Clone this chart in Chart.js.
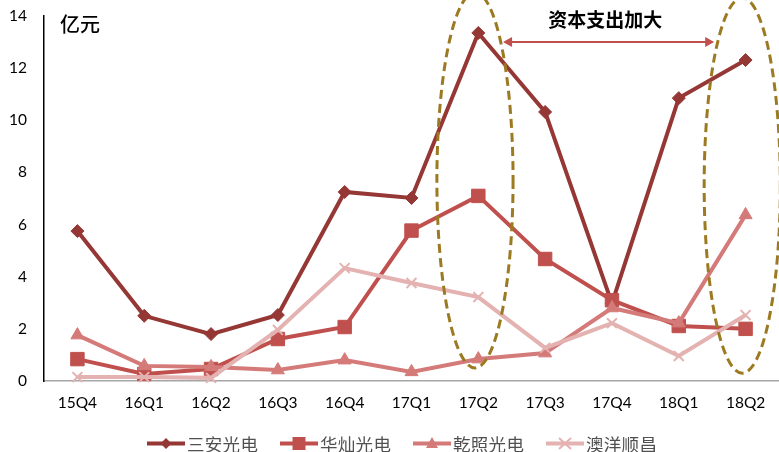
<!DOCTYPE html>
<html>
<head>
<meta charset="utf-8">
<script src="https://cdn.jsdelivr.net/npm/chart.js@4/dist/chart.umd.min.js"></script>
<style>
  html, body { margin: 0; padding: 0; background: #fff; }
  #wrap { position: relative; width: 779px; height: 452px; }
  #legend {
    position: absolute; left: 147px; top: 431px; height: 24px;
    display: flex; gap: 22px;
    font-family: "Noto Sans CJK SC", sans-serif; font-size: 17.5px; color: #505050;
  }
  #legend .item { display: flex; align-items: center; gap: 2px; white-space: nowrap; }
  #legend span { display: inline-block; width: 71px; letter-spacing: 0.3px; }
</style>
</head>
<body>
<div id="wrap">
  <canvas id="chart" width="779" height="452"></canvas>
  <div id="legend"></div>
</div>
<script>
// quarters and values (亿元)
const quarters = ['15Q4', '16Q1', '16Q2', '16Q3', '16Q4', '17Q1', '17Q2', '17Q3', '17Q4', '18Q1', '18Q2'];
const sananValues = [5.75, 2.5, 1.8, 2.53, 7.25, 7.02, 13.35, 10.32, 2.98, 10.85, 12.31];
const huacanValues = [0.84, 0.27, 0.46, 1.61, 2.07, 5.77, 7.1, 4.68, 3.1, 2.11, 2.0];
const qianzhaoValues = [1.76, 0.58, 0.54, 0.42, 0.8, 0.35, 0.84, 1.07, 2.8, 2.22, 6.37];
const aoyangValues = [0.15, 0.15, 0.12, 1.96, 4.33, 3.76, 3.22, 1.27, 2.22, 0.96, 2.53];
const seriesNames = ['三安光电', '华灿光电', '乾照光电', '澳洋顺昌'];
const yTicks = [0, 2, 4, 6, 8, 10, 12, 14];
const unitLabel = '亿元';
const noteText = '资本支出加大';

const colors = ['#953735', '#C0504D', '#D47B79', '#E3B2B1'];
const markers = ['rectRot', 'rect', 'triangle', 'crossRot'];
const markerSizes = [6.5, 9.5, 7.5, 7];

const makeSet = (i, data) => ({
    label: seriesNames[i],
    data: data,
    borderColor: colors[i],
    backgroundColor: colors[i],
    borderWidth: 4,
    pointStyle: markers[i],
    pointRadius: markerSizes[i],
    pointBorderWidth: i === 3 ? 2 : 1,
    pointBackgroundColor: colors[i],
    pointBorderColor: colors[i],
    tension: 0,
    clip: false,
    order: 4 - i // later series on top, like Excel
});

// dashed ellipses, arrow and note drawn on top of the lines
const notePlugin = {
    id: 'notes',
    afterDatasetsDraw(chart) {
        const ctx = chart.ctx;
        const x = chart.scales.x, y = chart.scales.y;
        ctx.save();

        // unit label
        ctx.fillStyle = '#000';
        ctx.font = '500 20px "Noto Sans CJK SC"';
        ctx.textAlign = 'left';
        ctx.textBaseline = 'middle';
        ctx.fillText(unitLabel, 60, 24);

        const ellipse = (cIdx, yBottom, yTop) => {
            const cx = x.getPixelForValue(cIdx);
            const rx = x.getPixelForValue(cIdx + 0.57) - cx;
            const b = y.getPixelForValue(yBottom), t = y.getPixelForValue(yTop);
            ctx.beginPath();
            ctx.ellipse(cx, (b + t) / 2, rx, (b - t) / 2, 0, 0, Math.PI * 2);
            ctx.setLineDash([9, 5]);
            ctx.lineWidth = 3;
            ctx.strokeStyle = '#9C7A22';
            ctx.stroke();
        };
        ellipse(5.95, 0.5, 14.9);
        ellipse(9.95, 0.3, 14.7);

        // double-headed arrow
        ctx.setLineDash([]);
        const ax1 = x.getPixelForValue(6.37), ax2 = x.getPixelForValue(9.53);
        const ay = y.getPixelForValue(13.0);
        ctx.strokeStyle = '#C0504D';
        ctx.fillStyle = '#C0504D';
        ctx.lineWidth = 2;
        ctx.beginPath();
        ctx.moveTo(ax1 + 6, ay);
        ctx.lineTo(ax2 - 6, ay);
        ctx.stroke();
        [[ax1, 1], [ax2, -1]].forEach(([px, d]) => {
            ctx.beginPath();
            ctx.moveTo(px, ay);
            ctx.lineTo(px + d * 9, ay - 5);
            ctx.lineTo(px + d * 9, ay + 5);
            ctx.closePath();
            ctx.fill();
        });

        ctx.fillStyle = '#000';
        ctx.font = 'bold 19px "Noto Sans CJK SC"';
        ctx.textAlign = 'center';
        ctx.fillText(noteText, x.getPixelForValue(7.9), y.getPixelForValue(13.85));
        ctx.restore();
    }
};

const chart = new Chart(document.getElementById('chart'), {
    type: 'line',
    data: {
        labels: quarters,
        datasets: [
            makeSet(0, sananValues),
            makeSet(1, huacanValues),
            makeSet(2, qianzhaoValues),
            makeSet(3, aoyangValues)
        ]
    },
    options: {
        responsive: false,
        animation: false,
        layout: { autoPadding: false, padding: 0 },
        plugins: {
            legend: { display: false },
            tooltip: { enabled: false }
        },
        scales: {
            x: {
                offset: true,
                grid: { display: false, drawTicks: false },
                border: { color: '#A6A6A6', width: 1.5 },
                ticks: {
                    color: '#000',
                    padding: 13,
                    maxRotation: 0,
                    font: { family: 'Lato', size: 15.5 }
                },
                afterFit: (s) => { s.height = 71; s.paddingLeft = 0; s.paddingRight = 0; }
            },
            y: {
                min: 0,
                max: 14,
                grid: { display: false, drawTicks: false },
                border: { color: '#000', width: 1.5 },
                afterBuildTicks: (s) => { s.ticks = yTicks.map(v => ({ value: v })); },
                ticks: {
                    color: '#000',
                    padding: 17,
                    font: { family: 'Lato', size: 15.5 }
                },
                afterFit: (s) => { s.width = 44; s.paddingTop = 16; s.paddingBottom = 0; }
            }
        }
    },
    plugins: [notePlugin]
});

// legend: line + marker, then the name
const legendEl = document.getElementById('legend');
const markerSvg = (i) => {
    const c = colors[i];
    let m = '';
    if (i === 0) m = `<polygon points="19,4 24.5,9.5 19,15 13.5,9.5" fill="${c}"/>`;
    if (i === 1) m = `<rect x="12.5" y="3" width="13" height="13" fill="${c}"/>`;
    if (i === 2) m = `<polygon points="19,3 25,14 13,14" fill="${c}"/>`;
    if (i === 3) m = `<path d="M13,4 L25,15 M25,4 L13,15" stroke="${c}" stroke-width="2"/>`;
    return `<svg width="38" height="19"><line x1="0" y1="9.5" x2="38" y2="9.5" stroke="${c}" stroke-width="4"/>${m}</svg>`;
};
seriesNames.forEach((name, i) => {
    const item = document.createElement('div');
    item.className = 'item';
    item.innerHTML = markerSvg(i) + `<span>${name}</span>`;
    legendEl.appendChild(item);
});
</script>
</body>
</html>
